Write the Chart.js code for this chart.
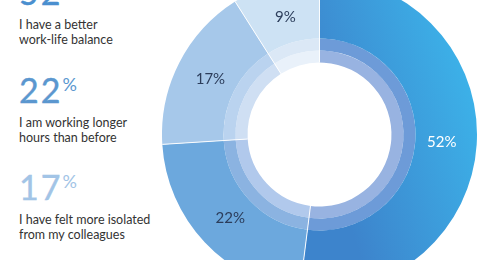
<!DOCTYPE html>
<html>
<head>
<meta charset="utf-8">
<script src="https://cdn.jsdelivr.net/npm/chart.js@4/dist/chart.umd.min.js"></script>
<style>
  html, body { margin: 0; padding: 0; background: #ffffff; }
  body { width: 497px; height: 260px; overflow: hidden; position: relative; font-family: Lato, "Open Sans", sans-serif; }
  .big { position: absolute; left: 19px; font-size: 34px; line-height: 34px; white-space: nowrap; letter-spacing: 2px; -webkit-text-stroke: 0.4px currentColor; }
  .big .pct { display: inline-block; vertical-align: top; font-size: 18px; line-height: 18px; position: relative; top: 2px; margin-left: 0px; letter-spacing: 0; -webkit-text-stroke: 0; }
  .desc { position: absolute; left: 19px; font-size: 12.5px; line-height: 14.5px; color: #333333; white-space: nowrap; }
  #wrap { position: absolute; left: 162px; top: -23px; width: 315px; height: 315px; }
</style>
</head>
<body>
<div id="left"></div>
<div id="wrap"><canvas id="c" width="315" height="315"></canvas></div>
<script>
// ---- data ----
const categories = ["I have a better work-life balance", "I am working longer hours than before", "I have felt more isolated from my colleagues", "Other"];
const values = [52, 22, 17, 9];
const valueLabels = ["52%", "22%", "17%", "9%"];
const descLines = [["I have a better", "work-life balance"], ["I am working longer", "hours than before"], ["I have felt more isolated", "from my colleagues"]];
const bigColors = ["#4a8fcf", "#5b97cf", "#a2c4e6"];
const mainColors = [null, "#6ca8dd", "#a6c8ea", "#cde2f4"];
const band1Colors = ["#6d9bd8", "#8bb3e1", "#bad3ef", "#dbe8f6"];
const band2Colors = ["#98b3e1", "#b1c9ec", "#cfdff3", "#e9f1fa"];
const labelColors = ["#ffffff", "#2c3d5b", "#2c3d5b", "#2c3d5b"];

// ---- left text ----
const left = document.getElementById('left');
const blockBase = [5, 103, 200];
descLines.forEach((lines, i) => {
  const big = document.createElement('div');
  big.className = 'big';
  big.style.color = bigColors[i];
  big.style.top = (blockBase[i] - 30.2) + 'px';
  big.innerHTML = values[i] + '<span class="pct">%</span>';
  left.appendChild(big);
  const d = document.createElement('div');
  d.className = 'desc';
  d.style.top = (blockBase[i] + 13) + 'px';
  d.innerHTML = lines.join('<br>');
  left.appendChild(d);
});

// ---- chart ----
function mainColor(ctx) {
  if (ctx.dataIndex === 0) {
    const c = ctx.chart.ctx;
    const g = c.createLinearGradient(318, 102, 158, 152);
    g.addColorStop(0, '#3cb4ea');
    g.addColorStop(1, '#3d84cc');
    return g;
  }
  return mainColors[ctx.dataIndex];
}

const separators = {
  id: 'separators',
  afterDatasetsDraw(chart) {
    const ctx = chart.ctx;
    const outer = chart.getDatasetMeta(0).data;
    const inner = chart.getDatasetMeta(chart.data.datasets.length - 1).data;
    ctx.save();
    ctx.strokeStyle = 'rgba(255,255,255,0.95)';
    ctx.lineWidth = 1;
    outer.forEach((arc, i) => {
      const a = arc.startAngle;
      const r0 = inner[i].innerRadius, r1 = arc.outerRadius;
      ctx.beginPath();
      ctx.moveTo(arc.x + r0 * Math.cos(a), arc.y + r0 * Math.sin(a));
      ctx.lineTo(arc.x + r1 * Math.cos(a), arc.y + r1 * Math.sin(a));
      ctx.stroke();
    });
    ctx.font = '15px Lato, "Open Sans", sans-serif';
    ctx.textAlign = 'center';
    ctx.textBaseline = 'middle';
    outer.forEach((arc, i) => {
      const mid = (arc.startAngle + arc.endAngle) / 2;
      const r = arc.innerRadius + (arc.outerRadius - arc.innerRadius) * 0.43;
      ctx.fillStyle = labelColors[i];
      ctx.fillText(valueLabels[i], arc.x + r * Math.cos(mid), arc.y + r * Math.sin(mid));
    });
    ctx.restore();
  }
};

new Chart(document.getElementById('c'), {
  type: 'doughnut',
  data: {
    labels: categories,
    datasets: [
      { data: values, backgroundColor: mainColor, borderWidth: 0, weight: 61.5 },
      { data: values, backgroundColor: band1Colors, borderWidth: 0, weight: 12 },
      { data: values, backgroundColor: band2Colors, borderWidth: 0, weight: 12 }
    ]
  },
  options: {
    responsive: false,
    maintainAspectRatio: false,
    devicePixelRatio: 1,
    animation: false,
    cutout: '45.7%',
    layout: { padding: 0 },
    plugins: { legend: { display: false }, tooltip: { enabled: false } }
  },
  plugins: [separators]
});
</script>
</body>
</html>
